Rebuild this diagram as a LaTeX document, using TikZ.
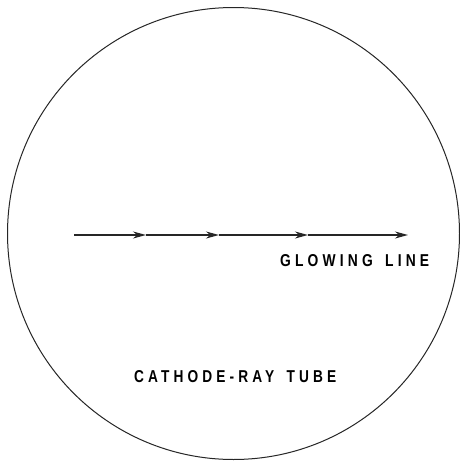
\documentclass[tikz,border=0pt]{standalone}
\usepackage{fontspec}
\setmainfont{Liberation Sans}
\newfontfamily\lblfont[LetterSpace=30]{Liberation Sans}
\usetikzlibrary{arrows.meta}
\tikzset{
  tube/.style={draw=black!85, line width=1pt},
  ray/.style={draw=black!85, line width=1.3pt, -{Stealth[length=13pt,width=7pt]}},
  lbl/.style={inner sep=0pt, anchor=west}
}
\newcommand{\wgap}{\hspace{0.9em}}
\begin{document}
\begin{tikzpicture}[x=1pt,y=-1pt]
\useasboundingbox (0,0) rectangle (460,463);
\fill[white] (0,0) rectangle (460,463);
\node[tube, circle, minimum size=452pt, inner sep=0pt] (crt) at (233.5,233.5) {};
\coordinate (p0) at (74,235);
\coordinate (p1) at (146,235);
\coordinate (p2) at (219,235);
\coordinate (p3) at (308,235);
\coordinate (p4) at (408,235);
\draw[ray] (p0) -- (p1);
\draw[ray] (p1) -- (p2);
\draw[ray] (p2) -- (p3);
\draw[ray] (p3) -- (p4);
\node[lbl] (glow) at (280,261) {\resizebox{149pt}{12pt}{\lblfont\bfseries GLOWING\wgap LINE}};
\node[lbl] (cath) at (134,377) {\resizebox{202pt}{12pt}{\lblfont\bfseries CATHODE-RAY\wgap TUBE}};
\end{tikzpicture}
\end{document}
